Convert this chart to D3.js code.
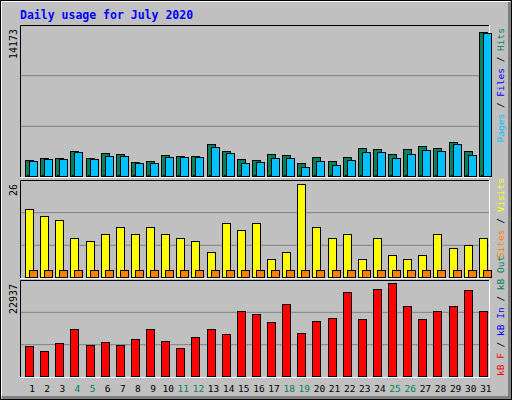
<!DOCTYPE html>
<html><head><meta charset="utf-8">
<script src="https://cdn.jsdelivr.net/npm/d3@7"></script>
<style>body{margin:0;background:#fff}text{font-family:"DejaVu Sans Mono",monospace}</style>
</head><body>
<svg id="chart" width="512" height="400"></svg>
<script>
var days = d3.range(1, 32);
var weekends = [4, 5, 11, 12, 18, 19, 25, 26];
var hits = [1537,1725,1725,2383,1725,2195,2101,1348,1443,2007,1913,1913,3042,2383,1631,1537,2101,2007,1254,1819,1443,1819,2666,2572,2101,2572,2854,2666,3324,2383,13861];
var files = [1443,1631,1631,2289,1631,1913,1913,1254,1254,1819,1819,1819,2760,2195,1254,1348,1725,1725,878,1443,1066,1537,2289,2289,1725,2101,2477,2383,3042,2007,13767];
var pages = [120,110,110,130,110,100,110,100,100,110,110,110,120,110,120,110,110,120,100,110,120,110,120,120,110,120,110,110,110,120,120];
var visits = [19,17,16,11,10,12,14,12,14,12,11,10,7,15,13,15,5,7,26,14,11,12,5,11,6,5,6,12,8,9,11];
var sites = [2,2,2,2,2,2,2,2,2,2,2,2,2,2,2,2,2,2,2,2,2,2,2,2,2,2,2,2,2,2,2];
var kbF = [7366,6110,8119,11635,7617,8370,7617,9123,11635,8621,6863,9626,11635,10379,15903,15150,13392,17661,10630,13643,14396,20674,14145,21427,22937,17159,14145,15903,17159,21176,15903];
var maxLabels = ["14173", "26", "22937"];

var svg = d3.select("#chart");
svg.append("rect").attr("x", 0.5).attr("y", 0.5).attr("width", 511).attr("height", 399)
    .attr("fill", "#c0c0c0").attr("stroke", "#000");
svg.append("path").attr("d", "M2,397.5H509.5V2").attr("fill", "none").attr("stroke", "#808080").attr("stroke-width", 3);
svg.append("path").attr("d", "M1.5,396V1.5H510").attr("fill", "none").attr("stroke", "#fff");

svg.append("text").attr("x", 20).attr("y", 19).attr("fill", "#0000ff")
    .attr("font-weight", "bold").attr("font-size", "11.5px").text("Daily usage for July 2020");

var x = d3.scaleBand().domain(days).range([22, 491]).paddingInner(0);
var green = "#00805c";

function panel(top, bottom, maxV, label) {
    var y = d3.scaleLinear().domain([0, maxV]).range([bottom - 1, top + 1]);
    var g = svg.append("g");
    [1, 2].forEach(function (k) {
        var gy = bottom - (bottom - top) * k / 3;
        g.append("line").attr("x1", 21).attr("x2", 489).attr("y1", gy).attr("y2", gy)
            .attr("stroke", "#808080");
    });
    g.append("path").attr("d", "M20.5," + bottom + "V" + (top + 0.5) + "H490").attr("fill", "none").attr("stroke", "#000");
    g.append("path").attr("d", "M20," + (bottom + 0.5) + "H489.5V" + top).attr("fill", "none").attr("stroke", "#fff");
    g.append("text").attr("transform", "translate(17," + (top + 4) + ") rotate(-90)")
        .attr("text-anchor", "end").attr("font-size", "10px").attr("fill", "#000").text(label);
    return y;
}

function bars(y, data, dx, w, color) {
    svg.append("g").selectAll("rect").data(data).enter().append("rect")
        .attr("x", function (d, i) { return Math.round(x(days[i])) + dx + 0.5; })
        .attr("y", function (d) { return Math.round(y(d)) + 0.5; })
        .attr("width", w)
        .attr("height", function (d) { return Math.round(y(0) - y(d)); })
        .attr("fill", color).attr("stroke", "#000");
}

var y1 = panel(25, 177, 14173 * 1.02, maxLabels[0]);
bars(y1, hits, 3, 8, green);
bars(y1, files, 7, 8, "#00c0ff");
bars(y1, pages, 5, 2, "#0000ff");

var y2 = panel(180, 278, 26 * 1.03, maxLabels[1]);
bars(y2, visits, 3, 8, "#ffff00");
bars(y2, sites, 7, 8, "#ff8000");

var y3 = panel(280, 377, 22937 * 1.02, maxLabels[2]);
bars(y3, kbF, 3, 8, "#ff0000");

// day labels
svg.append("g").selectAll("text").data(days).enter().append("text")
    .attr("x", function (d) { return x(d) + 10; })
    .attr("y", 392).attr("text-anchor", "middle").attr("font-size", "9.5px")
    .attr("fill", function (d) { return weekends.indexOf(d) >= 0 ? green : "#000"; })
    .text(function (d) { return d; });

// side legends
function legend(yPos, anchor, parts) {
    var t = svg.append("text").attr("transform", "translate(504," + yPos + ") rotate(-90)")
        .attr("text-anchor", anchor).attr("font-size", "9.5px").attr("xml:space", "preserve");
    parts.forEach(function (p) { t.append("tspan").attr("fill", p[1]).text(p[0]); });
}
legend(28, "end", [["Pages", "#00c0ff"], [" / ", "#000"], ["Files", "#0000ff"], [" / ", "#000"], ["Hits", green]]);
legend(178, "end", [["Sites", "#ff8000"], [" / ", "#000"], ["Visits", "#ffff00"]]);
legend(376, "start", [["kB F", "#ff0000"], [" / ", "#000"], ["kB In", "#0000ff"], [" / ", "#000"], ["kB Out", green]]);
</script>
</body></html>
